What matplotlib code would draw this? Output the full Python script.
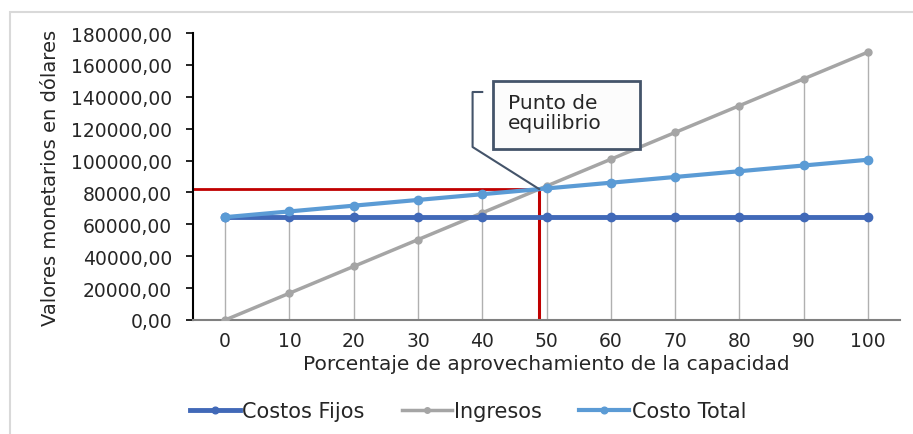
import numpy as np
import matplotlib.pyplot as plt
from matplotlib.patches import Rectangle
from matplotlib.ticker import FuncFormatter

plt.rcParams['font.family'] = ['DejaVu Sans']

pct = [0, 10, 20, 30, 40, 50, 60, 70, 80, 90, 100]
costos_fijos = [64500, 64500, 64500, 64500, 64500, 64500, 64500, 64500, 64500, 64500, 64500]
ingresos = [0, 16800, 33600, 50400, 67200, 84000, 100800, 117600, 134400, 151200, 168000]
costo_total = [64500, 68100, 71700, 75300, 78900, 82500, 86100, 89700, 93300, 96900, 100500]
etiqueta_pe = 'Punto de\nequilibrio'

c_fijos = '#4169b8'
c_ing = '#a5a5a5'
c_total = '#5b9bd5'
c_rojo = '#c00000'
c_caja = '#44546a'

fig = plt.figure(figsize=(9.13, 4.35), dpi=100)
ax = fig.add_axes([193 / 913, 1 - 321 / 435, 707 / 913, 287 / 435])

# marco exterior del gráfico
fig.patches.append(Rectangle((10 / 913, -0.1), 1.2, 1.1 - 13 / 435,
                             transform=fig.transFigure, fill=False,
                             edgecolor='#d9d9d9', lw=1.5))

x = np.array(pct)
ing = np.array(ingresos)
tot = np.array(costo_total)

# líneas de proyección desde el valor más alto hasta el eje
ax.vlines(x, 0, np.maximum.reduce([costos_fijos, ingresos, costo_total]),
          color='#b0b0b0', lw=1, zorder=1)

# punto de equilibrio: cruce de ingresos y costo total
d = ing - tot
i = np.where(np.diff(np.sign(d)) > 0)[0][0]
t = -d[i] / (d[i + 1] - d[i])
pe_x = x[i] + t * (x[i + 1] - x[i])
pe_y = ing[i] + t * (ing[i + 1] - ing[i])

ax.plot([-5, pe_x], [pe_y, pe_y], color=c_rojo, lw=2, zorder=2)
ax.plot([pe_x, pe_x], [pe_y, 0], color=c_rojo, lw=2.2, zorder=2)

ax.plot(x, costos_fijos, color=c_fijos, lw=3.5, marker='o', ms=6, label='Costos Fijos', zorder=4)
ax.plot(x, ingresos, color=c_ing, lw=2.5, marker='o', ms=5, label='Ingresos', zorder=3)
ax.plot(x, costo_total, color=c_total, lw=3, marker='o', ms=6, label='Costo Total', zorder=5)

# llamada "Punto de equilibrio"
ax.add_patch(Rectangle((41.6, 107300), 22.9, 42500, fill=True, facecolor='#fcfcfc',
                       edgecolor=c_caja, lw=2, zorder=6))
ax.text(44.0, 130000, etiqueta_pe, fontsize=14.5, color='#262626', va='center',
        ha='left', linespacing=1.1, zorder=7)
ax.plot([40.0, 38.5, 38.5, pe_x], [143000, 143000, 108500, pe_y],
        color=c_caja, lw=1.5, zorder=6)

ax.set_xlim(-5, 105)
ax.set_ylim(0, 180000)
ax.set_xticks(pct)
ax.set_yticks(np.arange(0, 180001, 20000))
ax.yaxis.set_major_formatter(FuncFormatter(lambda v, p: f'{v:.2f}'.replace('.', ',')))
ax.tick_params(axis='x', length=0, pad=8, labelsize=13.5, labelcolor='#262626')
ax.tick_params(axis='y', length=5, width=1.2, pad=10, labelsize=13.5, labelcolor='#262626')

for s in ['top', 'right']:
    ax.spines[s].set_visible(False)
ax.spines['left'].set_color('black')
ax.spines['left'].set_linewidth(1.5)
ax.spines['bottom'].set_color('#808080')
ax.spines['bottom'].set_linewidth(1.5)

ax.set_xlabel('Porcentaje de aprovechamiento de la capacidad', fontsize=14.5, color='#262626', labelpad=3)
ax.set_ylabel('Valores monetarios en dólares', fontsize=14, color='#262626', labelpad=8)

fig.legend(loc='center', bbox_to_anchor=(468 / 913, 1 - 412 / 435), ncol=3, frameon=False,
           fontsize=15, handlelength=2.4, handletextpad=0.1, columnspacing=1.8,
           labelcolor='#262626', markerscale=0.8)

fig.savefig('out.png', dpi=100)
